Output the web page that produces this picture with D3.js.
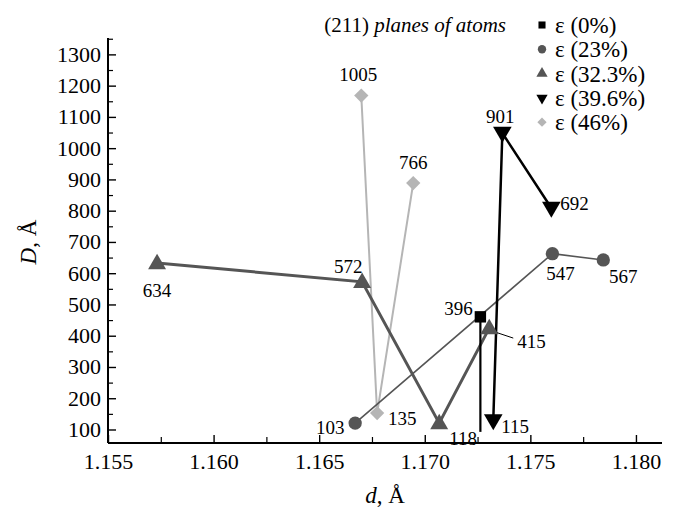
<html><head><meta charset="utf-8">
<script src="https://d3js.org/d3.v7.min.js"></script>
</head><body style="margin:0">
<svg id="c" width="675" height="512" style="display:block;background:#fff"></svg>
<script>
// ---- data ----
const seriesNames = ["ε (0%)", "ε (23%)", "ε (32.3%)", "ε (39.6%)", "ε (46%)"];
const d0 = [1.17261, 1.17261];   const D0 = [462, 94];   const L0 = ["396", null];
const d1 = [1.16668, 1.17602, 1.17843]; const D1 = [122, 664, 644]; const L1 = ["103", "547", "567"];
const d2 = [1.1573, 1.16701, 1.17066, 1.17303]; const D2 = [634, 574, 122, 426]; const L2 = ["634", "572", "118", "415"];
const d3v = [1.17322, 1.17365, 1.17597]; const D3 = [130, 1050, 810]; const L3 = ["115", "901", "692"];
const d4 = [1.16697, 1.16772, 1.16943]; const D4 = [1170, 154, 890]; const L4 = ["1005", "135", "766"];
const xTicks = [1.155, 1.160, 1.165, 1.170, 1.175, 1.180];
const yTicks = [100, 200, 300, 400, 500, 600, 700, 800, 900, 1000, 1100, 1200, 1300];

// ---- layout ----
const F = "Liberation Serif";
const svg = d3.select("#c");
const L = 108, R = 662, T = 38, B = 443;
const x = d3.scaleLinear().domain([1.155, 1.18121]).range([108.5, 662]);
const y = d3.scaleLinear().domain([58.4, 1354]).range([B, T]);

const styles = [
  {color: "#000", width: 2.2, sym: d3.symbolSquare, size: 130, lsize: 50, lineColor: "#000"},
  {color: "#555", width: 1.6, sym: d3.symbolCircle, size: 140, lsize: 55, lineColor: "#555"},
  {color: "#555", width: 3, sym: d3.symbolTriangle, size: 140, lsize: 55, lineColor: "#555"},
  {color: "#000", width: 2.5, sym: d3.symbolTriangle, size: 150, lsize: 55, rot: 180, lineColor: "#000"},
  {color: "#b5b5b5", width: 2, sym: d3.symbolDiamond2 || d3.symbolDiamond, size: 130, lsize: 55, lineColor: "#b5b5b5"}
];
// label offsets [dx, dy, anchor]
const offs = [
  [[-22, -8, "middle"], null],
  [[-25, 5, "middle"], [8, 20, "middle"], [20, 17, "middle"]],
  [[0, 28, "middle"], [-14, -15, "middle"], [24, 16, "middle"], [28, 14, "start"]],
  [[8, 6, "start"], [-2, -16, "middle"], [9, -4, "start"]],
  [[-3, -21, "middle"], [11, 6, "start"], [0, -20, "middle"]]
];
const ds = [d0, d1, d2, d3v, d4], Ds = [D0, D1, D2, D3, D4], Ls = [L0, L1, L2, L3, L4];

function txt(sel, size) {
  return sel.append("text").attr("font-size", size).style("font-family", `"${F}"`).attr("fill", "#000");
}

// axes
const yAxisG = svg.append("g").attr("transform", `translate(${L},0)`);
yAxisG.append("line").attr("x1", 0).attr("x2", 0).attr("y1", T).attr("y2", B).attr("stroke", "#000").attr("stroke-width", 2);
const yMinor = d3.range(150, 1351, 100);
yAxisG.selectAll(".ymin").data(yMinor).join("line").attr("x1", 0).attr("x2", 5).attr("y1", d => y(d)).attr("y2", d => y(d)).attr("stroke", "#000").attr("stroke-width", 1.2);
yAxisG.selectAll(".ymaj").data(yTicks).join("line").attr("x1", 0).attr("x2", 8).attr("y1", d => y(d)).attr("y2", d => y(d)).attr("stroke", "#000").attr("stroke-width", 1.4);
yTicks.forEach(d => txt(yAxisG, 22).attr("x", -7).attr("y", y(d) + 7).attr("text-anchor", "end").text(d));

const xAxisG = svg.append("g").attr("transform", `translate(0,${B})`);
xAxisG.append("line").attr("x1", L).attr("x2", R).attr("y1", 0).attr("y2", 0).attr("stroke", "#000").attr("stroke-width", 2);
const xMinor = [1.1575, 1.1625, 1.1675, 1.1725, 1.1775];
xAxisG.selectAll(".xmin").data(xMinor).join("line").attr("x1", d => x(d)).attr("x2", d => x(d)).attr("y1", 0).attr("y2", -6).attr("stroke", "#000").attr("stroke-width", 1.2);
xAxisG.selectAll(".xmaj").data(xTicks).join("line").attr("x1", d => x(d)).attr("x2", d => x(d)).attr("y1", 0).attr("y2", -8).attr("stroke", "#000").attr("stroke-width", 1.4);
xTicks.forEach(d => txt(xAxisG, 22).attr("x", x(d)).attr("y", 26).attr("text-anchor", "middle").text(d3.format(".3f")(d)));

// axis titles
const yt = txt(svg, 23).attr("transform", "translate(36,242) rotate(-90)").attr("text-anchor", "middle");
yt.append("tspan").attr("font-style", "italic").text("D");
yt.append("tspan").text(", Å");
const xt = txt(svg, 23).attr("x", 385).attr("y", 503).attr("text-anchor", "middle");
xt.append("tspan").attr("font-style", "italic").text("d");
xt.append("tspan").text(", Å");

// title
const tt = txt(svg, 21).attr("x", 506).attr("y", 32).attr("text-anchor", "end");
tt.append("tspan").text("(211) ");
tt.append("tspan").attr("font-style", "italic").text("planes of atoms");

// series lines
const line = d3.line().x(p => x(p[0])).y(p => y(p[1]));
const order = [4, 1, 2, 0, 3];
order.forEach(i => {
  const pts = ds[i].map((v, k) => [v, Ds[i][k]]);
  svg.append("path").attr("d", line(pts)).attr("fill", "none").attr("stroke", styles[i].lineColor).attr("stroke-width", styles[i].width);
});
// leader line for 415
{
  const px = x(d2[3]), py = y(D2[3]);
  svg.append("line").attr("x1", px).attr("y1", py + 2).attr("x2", px + 24).attr("y2", py + 10).attr("stroke", "#000").attr("stroke-width", 1);
}
// markers
order.forEach(i => {
  const st = styles[i];
  ds[i].forEach((v, k) => {
    if (Ls[i][k] === null) return;
    const sym = d3.symbol().type(st.sym).size(st.size);
    svg.append("path").attr("d", sym()).attr("fill", st.color)
      .attr("transform", `translate(${x(v)},${y(Ds[i][k]) + (st.sym === d3.symbolTriangle ? (st.rot ? -1 : 1) : 0)})` + (st.rot ? ` rotate(${st.rot})` : ""));
  });
});
// labels
order.forEach(i => {
  ds[i].forEach((v, k) => {
    const lab = Ls[i][k]; if (lab === null) return;
    const o = offs[i][k];
    txt(svg, 19).attr("x", x(v) + o[0]).attr("y", y(Ds[i][k]) + o[1] + 6).attr("text-anchor", o[2]).text(lab);
  });
});

// legend
const lg = svg.append("g");
seriesNames.forEach((n, i) => {
  const st = styles[i];
  const yy = 25 + i * 24.3;
  const sym = d3.symbol().type(st.sym).size(st.lsize);
  lg.append("path").attr("d", sym()).attr("fill", st.color).attr("transform", `translate(542,${yy})` + (st.rot ? " rotate(180)" : ""));
  txt(lg, 23).attr("x", 555).attr("y", yy + 8).text(n);
});
</script>
</body></html>
